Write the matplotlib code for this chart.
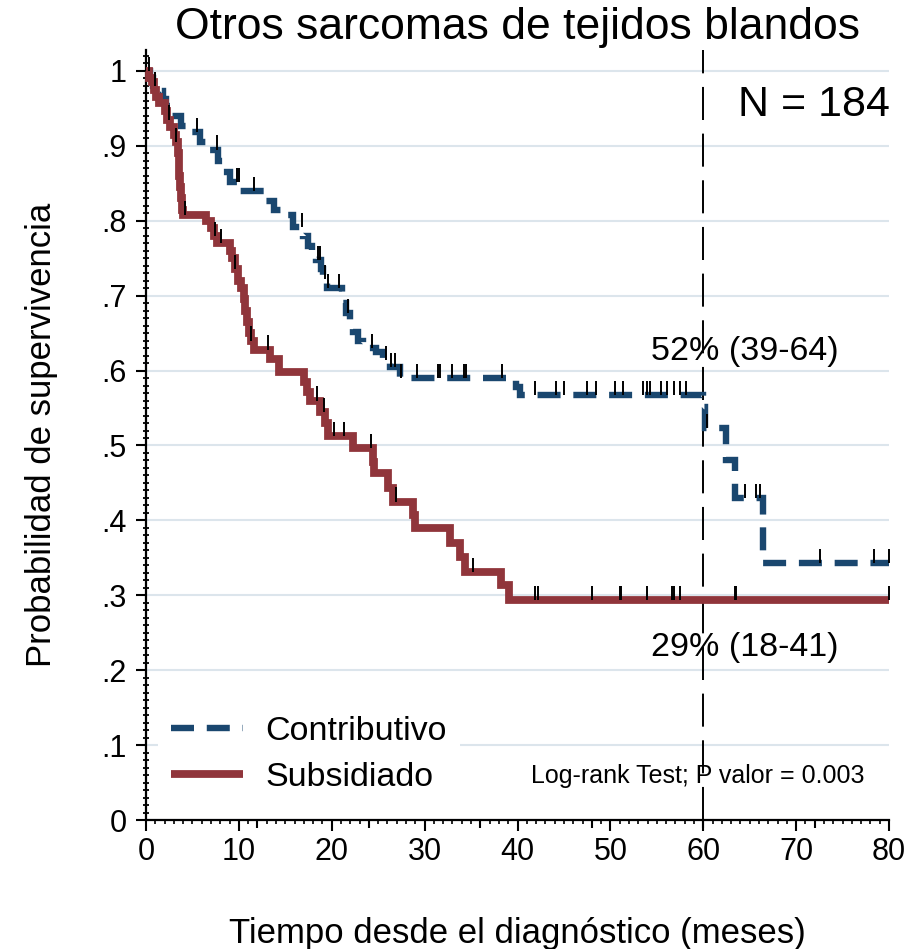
import numpy as np
import matplotlib
matplotlib.use('Agg')
import matplotlib.pyplot as plt
from matplotlib.ticker import MultipleLocator, FixedLocator

plt.rcParams['font.family'] = ['Liberation Sans', 'DejaVu Sans']

# Kaplan-Meier steps: month of each drop and the survival right after it
contrib_time = [0, 0.4, 0.8, 1.3, 1.8, 2.2, 2.8, 3.8, 4.7, 5.8, 6.7, 7.8, 8.3, 9.0,
                10.1, 12.8, 13.8, 15.3, 15.8, 16.9, 17.4, 17.9, 18.3, 18.8, 19.1, 19.5,
                21.1, 21.5, 22.0, 22.3, 22.8, 23.4, 24.8, 25.5, 26.3, 27.3, 39.8, 40.3,
                60.0, 60.2, 62.4, 63.4, 66.4]
contrib_surv = [1.0, 0.99, 0.98, 0.973, 0.963, 0.953, 0.94, 0.927, 0.918, 0.905, 0.895, 0.88, 0.865, 0.852,
                0.84, 0.826, 0.815, 0.808, 0.792, 0.78, 0.766, 0.757, 0.747, 0.735, 0.722, 0.71,
                0.69, 0.677, 0.664, 0.651, 0.64, 0.63, 0.625, 0.614, 0.605, 0.59, 0.578, 0.567,
                0.552, 0.523, 0.48, 0.43, 0.343]
contrib_cens = [0.3, 1.0, 5.5, 7.6, 9.8, 10.0, 11.6, 16.8, 18.5, 18.7, 19.3, 19.6, 20.8, 21.8,
                24.3, 25.8, 26.4, 26.8, 27.5, 29.2, 31.4, 31.7, 32.9, 34.2, 34.5, 38.3, 41.9,
                44.1, 45.0, 47.5, 48.5, 50.5, 51.4, 53.5, 53.9, 54.3, 55.5, 56.1, 56.8, 57.5,
                58.1, 60.4, 64.5, 65.7, 66.1, 72.6, 78.4, 80.0]

subsid_time = [0, 0.3, 0.6, 0.9, 1.1, 1.4, 2.0, 2.3, 2.6, 3.0, 3.2, 3.4, 3.5, 3.6, 3.7, 3.8, 3.9, 4.0,
               6.5, 7.0, 7.3, 7.6, 9.0, 9.3, 9.6, 9.9, 10.2, 10.5, 10.7, 10.9, 11.1, 11.3, 11.6,
               13.3, 14.3, 17.0, 17.3, 17.7, 18.7, 19.3, 19.6, 22.3, 24.4, 24.6, 26.1, 26.6,
               28.7, 29.0, 32.7, 33.8, 34.4, 38.2, 39.1]
subsid_surv = [1.0, 0.99, 0.985, 0.975, 0.965, 0.957, 0.946, 0.935, 0.925, 0.915, 0.905, 0.89, 0.875,
               0.86, 0.845, 0.83, 0.815, 0.808,
               0.80, 0.79, 0.78, 0.77, 0.76, 0.75, 0.735, 0.72, 0.71, 0.695, 0.68, 0.665, 0.65, 0.64, 0.628,
               0.615, 0.598, 0.585, 0.572, 0.56, 0.545, 0.53, 0.512, 0.497, 0.478, 0.463, 0.443, 0.425,
               0.407, 0.39, 0.37, 0.351, 0.331, 0.314, 0.294]
subsid_cens = [2.5, 3.2, 4.2, 7.4, 8.1, 9.6, 11.3, 13.1, 18.4, 19.2, 20.2, 21.3, 24.2, 26.9, 35.2,
               41.9, 42.2, 48.0, 51.0, 51.1, 53.9, 56.6, 56.9, 57.5, 63.4, 63.5, 80.0]

x_major = [0, 10, 20, 30, 40, 50, 60, 70, 80]
x_mid = [12, 24, 36, 48, 60, 72]
y_major = [0, 0.1, 0.2, 0.3, 0.4, 0.5, 0.6, 0.7, 0.8, 0.9, 1.0]
y_labels = ['0', '.1', '.2', '.3', '.4', '.5', '.6', '.7', '.8', '.9', '1']

t_max = 80
t_mark = 60
n_total = 184
ci_contrib = '52% (39-64)'
ci_subsid = '29% (18-41)'
p_value = 0.003

NAVY = '#1a476f'
MAROON = '#90353b'
GRID = '#dce5ec'


def surv_at(time, surv, t):
    i = np.searchsorted(time, t, side='right') - 1
    return surv[i]


fig = plt.figure(figsize=(9.14, 9.49), dpi=100)
ax = fig.add_axes([146 / 914, 1 - 820 / 949, 743 / 914, 770 / 949])

ax.axvline(t_mark, color='black', lw=1.4, ls=(0, (17, 7)), zorder=1.5)

l1, = ax.step(contrib_time + [t_max], contrib_surv + [contrib_surv[-1]], where='post',
              color=NAVY, lw=4.6, ls=(0, (3.6, 2.0)), solid_joinstyle='miter',
              dash_joinstyle='miter', zorder=2, clip_on=False, label='Contributivo')
l2, = ax.step(subsid_time + [t_max], subsid_surv + [subsid_surv[-1]], where='post',
              color=MAROON, lw=5.6, solid_joinstyle='miter', solid_capstyle='butt',
              zorder=3, clip_on=False, label='Subsidiado')

# censoring marks
tick_h = 0.019
for time, surv, cens in [(contrib_time, contrib_surv, contrib_cens),
                         (subsid_time, subsid_surv, subsid_cens)]:
    s = np.array([surv_at(time, surv, c) for c in cens])
    ax.vlines(cens, s, s + tick_h, color='black', lw=1.4, zorder=4, clip_on=False)

ax.set_xlim(0, t_max)
ax.set_ylim(0, 1.028)
ax.xaxis.set_major_locator(FixedLocator(x_major))
ax.xaxis.set_minor_locator(MultipleLocator(1))
ax.set_yticks(y_major, y_labels)
ax.yaxis.set_minor_locator(MultipleLocator(0.01))

ax.tick_params(axis='x', which='major', length=8, width=1.5, labelsize=22, pad=4)
ax.tick_params(axis='x', which='minor', length=3.2, width=1.2)
ax.tick_params(axis='y', which='major', length=7, width=1.5, labelsize=22, pad=7)
ax.tick_params(axis='y', which='minor', length=4.2, width=1.3, direction='inout')

sec = ax.secondary_xaxis('bottom')
sec.set_xticks(x_mid, labels=[])
sec.tick_params(length=5.5, width=1.5)
sec.spines['bottom'].set_visible(False)

for side in ['top', 'right']:
    ax.spines[side].set_visible(False)
for side in ['left', 'bottom']:
    ax.spines[side].set_linewidth(1.6)

ax.yaxis.grid(True, color=GRID, lw=1.5)
ax.set_axisbelow(True)

ax.set_xlabel('Tiempo desde el diagnóstico (meses)', fontsize=25, labelpad=36)
ax.set_ylabel('Probabilidad de supervivencia', fontsize=25, labelpad=31)
fig.text(517.5 / 914, 1 - 27 / 949, 'Otros sarcomas de tejidos blandos', fontsize=32,
         ha='center', va='center')

ax.text(80.1, 0.955, f'N = {n_total}', fontsize=31, ha='right', va='center')
ax.text(64.5, 0.625, ci_contrib, fontsize=24.5, ha='center', va='center')
ax.text(64.5, 0.23, ci_subsid, fontsize=24.5, ha='center', va='center')
ax.text(59.4, 0.0587, f'Log-rank Test; P valor = {p_value:.3f}', fontsize=18,
        ha='center', va='center')

leg = ax.legend(handles=[l1, l2], loc='lower left', bbox_to_anchor=(0.016, 0.017),
                borderaxespad=0, fontsize=24.5, handlelength=2.1, handletextpad=0.65,
                labelspacing=0.45, borderpad=0.4, frameon=True, fancybox=False)
leg.get_frame().set_facecolor('white')
leg.get_frame().set_edgecolor('none')
leg.get_frame().set_alpha(1)

fig.savefig('out.png', dpi=100)
